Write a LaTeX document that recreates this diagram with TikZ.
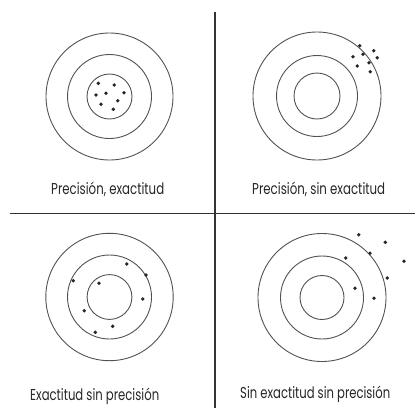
\documentclass[tikz,border=0pt]{standalone}
\usepackage{fontspec}
\usepackage{graphicx}
\setmainfont{Poppins}
\newcommand{\lbl}[2]{\resizebox{#1pt}{11pt}{\raisebox{0pt}[\fontcharht\font`P][0pt]{#2}}}
\begin{document}
\begin{tikzpicture}[x=1pt,y=-1pt,
  ring/.style={draw=black!68,line width=0.9pt},
  shot/.style={fill=black!85},
  divider/.style={draw=black!80,line width=1.6pt},
  caption/.style={inner sep=0pt,anchor=base west,text=black!85}]
\useasboundingbox (0,0) rectangle (415,408);
% dividers
\coordinate (vtop) at (215,11.5);
\coordinate (vbot) at (215,408);
\coordinate (hl) at (9.5,213.5);
\coordinate (hr) at (415,213.5);
\draw[divider] (vtop) -- (vbot);
\draw[divider] (hl) -- (hr);
% target 1
\coordinate (c1) at (109.5,96.5);
\draw[ring] (c1) circle[radius=63.5] (c1) circle[radius=42] (c1) circle[radius=22.5];
\foreach \p in {(98.3,83.3),(114.3,85),(96,95),(106,93.3),(124,92.7),(117.7,100.7),(101,104.3),(113.3,109.3)}
  \fill[shot] \p circle[radius=1.9];
\node[caption] (t1) at (51,194) {\lbl{113}{Precisión, exactitud}};
% target 2
\coordinate (c2) at (317,96);
\draw[ring] (c2) circle[radius=64] (c2) circle[radius=40.5] (c2) circle[radius=23];
\foreach \p in {(359.7,45.7),(353,56.7),(363,54.3),(373.7,50.7),(377.3,57.7),(357.3,66),(369,62.7),(370.3,71.7)}
  \fill[shot] \p circle[radius=1.9];
\node[caption] (t2) at (252,194.5) {\lbl{133}{Precisión, sin exactitud}};
% target 3
\coordinate (c3) at (109.5,297);
\draw[ring] (c3) circle[radius=63.7] (c3) circle[radius=42] (c3) circle[radius=22.4];
\foreach \p in {(126.7,264),(146,275),(73.3,280.7),(99,283.3),(142.7,299),(84.3,310.7),(112.7,326.3),(95.3,332.3)}
  \fill[shot] \p circle[radius=1.9];
\node[caption] (t3) at (30,400.5) {\lbl{129}{Exactitud sin precisión}};
% target 4
\coordinate (c4) at (322,297.5);
\draw[ring] (c4) circle[radius=64] (c4) circle[radius=41.5] (c4) circle[radius=22];
\foreach \p in {(358.7,234.7),(385.3,242.3),(370,253.3),(345.7,258),(404,261.3),(387.3,278),(355,288.3),(374,298.3)}
  \fill[shot] \p circle[radius=1.9];
\node[caption] (t4) at (240,398.5) {\lbl{150}{Sin exactitud sin precisión}};
\end{tikzpicture}
\end{document}
